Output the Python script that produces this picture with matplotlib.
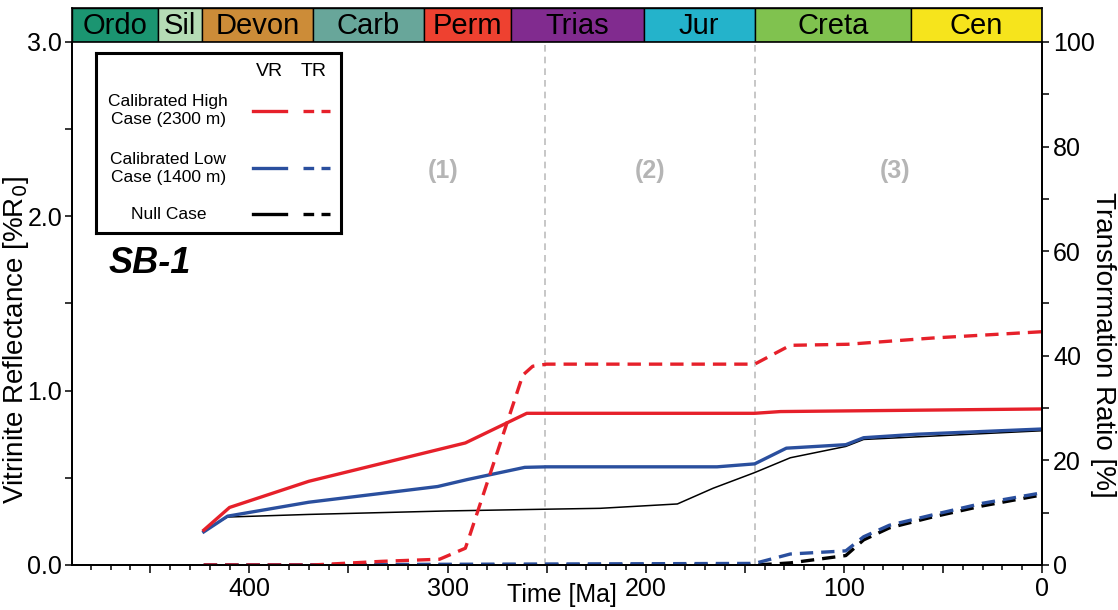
import matplotlib
matplotlib.use("Agg")
import matplotlib.pyplot as plt
from matplotlib.ticker import MultipleLocator, FuncFormatter

plt.rcParams["font.family"] = ["Liberation Sans", "DejaVu Sans"]

# geological periods (start, end in Ma), as drawn in the bar
periods = ["Ordo", "Sil", "Devon", "Carb", "Perm", "Trias", "Jur", "Creta", "Cen"]
period_start = [489.5, 446, 424, 368, 312, 268, 201, 145, 66]
period_end = [446, 424, 368, 312, 268, 201, 145, 66, 0]
period_colors = ["#1b9571", "#b5dcb5", "#cc8c38", "#68a69a", "#ee4130",
                 "#812b8f", "#24b3cb", "#80c24f", "#f6e41c"]

# vitrinite reflectance [%Ro]
high_vr_time = [423, 410, 370, 291, 260, 250, 145, 132, 0]
high_vr = [0.20, 0.33, 0.48, 0.70, 0.87, 0.87, 0.87, 0.88, 0.895]

low_vr_time = [423, 411, 370, 305, 290, 261, 250, 164, 145, 129, 99, 90, 63, 0]
low_vr = [0.19, 0.28, 0.36, 0.45, 0.49, 0.56, 0.563, 0.563, 0.58, 0.67, 0.69,
          0.73, 0.75, 0.78]

null_vr_time = [423, 411, 370, 300, 250, 223, 184, 166, 145, 127, 99, 90, 0]
null_vr = [0.20, 0.275, 0.29, 0.31, 0.32, 0.325, 0.35, 0.44, 0.53, 0.615, 0.68,
           0.72, 0.77]

# transformation ratio [%]
high_tr_time = [423, 368, 333, 304, 291, 289, 262, 257, 250, 145, 127, 98, 55, 0]
high_tr = [0, 0, 0.7, 1.1, 3.2, 5.4, 36.3, 38.0, 38.4, 38.4, 42.0, 42.2, 43.4, 44.6]

low_tr_time = [423, 145, 127, 99, 90, 77, 55, 30, 0]
low_tr = [0, 0.3, 2.1, 2.7, 5.4, 7.6, 9.6, 11.8, 13.8]

null_tr_time = [423, 145, 135, 127, 99, 90, 77, 55, 30, 0]
null_tr = [0, 0, 0.2, 0.4, 1.8, 4.8, 7.1, 9.2, 11.3, 13.4]

phase_bounds = [251, 145]
phase_labels = ["(1)", "(2)", "(3)"]
phase_label_x = [302, 198, 74]

red = "#e6202a"
blue = "#2a4f9e"
dash = (4, 2.4)

fig = plt.figure(figsize=(11.18, 6.10), dpi=100)
ax = fig.add_axes([0.0644, 0.0738, 0.8676, 0.8574])
ax2 = ax.twinx()

ax.set_xlim(489.5, 0)
ax.set_ylim(0, 3.0)
ax2.set_ylim(0, 100)

for b in phase_bounds:
    ax.axvline(b, color="#bdbdbd", lw=1.2, ls=(0, (4, 3)), zorder=0)

for x, lab in zip(phase_label_x, phase_labels):
    ax.text(x, 2.26, lab, color="#b5b5b5", fontsize=18, fontweight="bold",
            ha="center", va="center")

ax.plot(null_vr_time, null_vr, color="black", lw=1.1)
ax.plot(low_vr_time, low_vr, color=blue, lw=2.4)
ax.plot(high_vr_time, high_vr, color=red, lw=2.4)

ax2.plot(null_tr_time, null_tr, color="black", lw=2.4, dashes=dash)
ax2.plot(low_tr_time, low_tr, color=blue, lw=2.4, dashes=dash)
ax2.plot(high_tr_time, high_tr, color=red, lw=2.4, dashes=dash)

ax.text(471, 1.73, "SB-1", fontsize=26, fontweight="bold", style="italic",
        ha="left", va="center")

# axes styling
for a in (ax, ax2):
    a.spines["top"].set_visible(False)
    for s in ("left", "right", "bottom"):
        a.spines[s].set_linewidth(1.3)

ax.xaxis.set_major_locator(MultipleLocator(50))
ax.xaxis.set_minor_locator(MultipleLocator(10))
ax.xaxis.set_major_formatter(
    FuncFormatter(lambda v, p: f"{int(v)}" if v % 100 == 0 else ""))
ax.yaxis.set_major_locator(MultipleLocator(1.0))
ax.yaxis.set_minor_locator(MultipleLocator(0.5))
ax.yaxis.set_major_formatter(FuncFormatter(lambda v, p: f"{v:.1f}"))
ax2.yaxis.set_major_locator(MultipleLocator(20))
ax2.yaxis.set_minor_locator(MultipleLocator(10))

ax.tick_params(axis="both", which="both", direction="out", labelsize=18, width=1.1)
ax.tick_params(axis="x", which="major", length=6, pad=3)
ax.tick_params(axis="x", which="minor", length=3.5)
ax.tick_params(axis="y", which="both", length=5, pad=2)
ax2.tick_params(axis="y", which="both", length=5, pad=3, labelsize=18, width=1.1)

ax.set_xlabel("Time [Ma]", fontsize=18)
ax.xaxis.set_label_coords(0.505, -0.034)
ax.set_ylabel("Vitrinite Reflectance [%R$_0$]", fontsize=20, va="center")
ax.yaxis.set_label_coords(-0.058, 0.43)
ax2.set_ylabel("Transformation Ratio [%]", fontsize=20, rotation=270,
               va="center")
ax2.yaxis.set_label_coords(1.063, 0.42)

# period bar
bar = fig.add_axes([0.0644, 0.9312, 0.8676, 0.0557])
bar.set_xlim(489.5, 0)
bar.set_ylim(0, 1)
for name, s, e, c in zip(periods, period_start, period_end, period_colors):
    bar.axvspan(s, e, color=c, ec="black", lw=1.0)
    bar.text((s + e) / 2, 0.47, name, fontsize=21, ha="center", va="center")
bar.set_xticks([])
bar.set_yticks([])
for s in bar.spines.values():
    s.set_linewidth(1.2)

# legend box
leg = fig.add_axes([0.0859, 0.618, 0.2192, 0.295])
leg.set_xlim(0, 1)
leg.set_ylim(0, 1)
leg.set_xticks([])
leg.set_yticks([])
for s in leg.spines.values():
    s.set_linewidth(2.2)
leg.text(0.709, 0.895, "VR", fontsize=14, ha="center", va="center")
leg.text(0.886, 0.895, "TR", fontsize=14, ha="center", va="center")
leg_rows = ["Calibrated High\nCase (2300 m)", "Calibrated Low\nCase (1400 m)",
            "Null Case"]
leg_colors = [red, blue, "black"]
leg_y = [0.68, 0.36, 0.105]
for lab, c, y in zip(leg_rows, leg_colors, leg_y):
    leg.text(0.295, y, lab, fontsize=12.5, ha="center", va="center",
             linespacing=1.25)
    leg.plot([0.64, 0.775], [y, y], color=c, lw=2.4)
    leg.plot([0.845, 0.955], [y, y], color=c, lw=2.4, dashes=(3.2, 2.2))

fig.savefig("out.png", dpi=100)
